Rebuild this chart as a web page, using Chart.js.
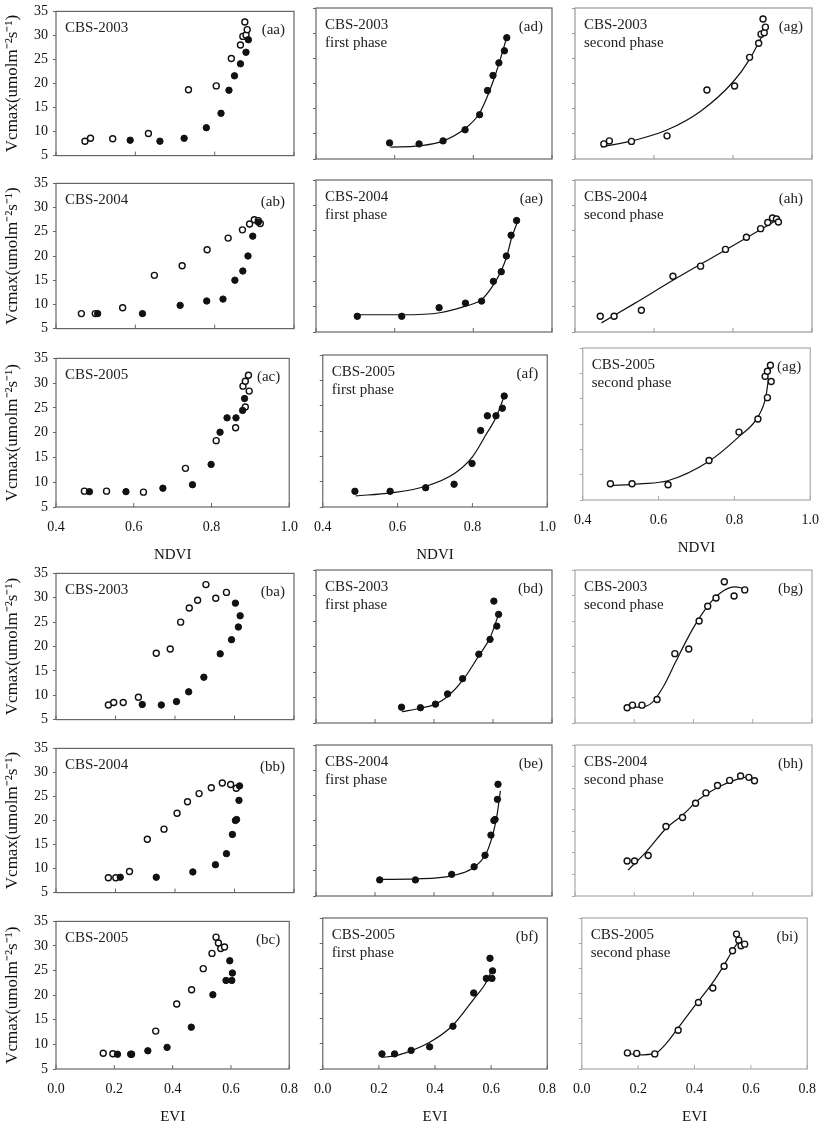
<!DOCTYPE html>
<html>
<head>
<meta charset="utf-8">
<script src="https://cdn.jsdelivr.net/npm/chart.js@4.4.1/dist/chart.umd.min.js"></script>
<style>
  html, body { margin: 0; padding: 0; background: #fff; }
  body { position: relative; width: 826px; height: 1123px; overflow: hidden; }
  canvas { position: absolute; }
</style>
</head>
<body>
<script>
// tick labels
const ndviTicks = [0.4, 0.6, 0.8, 1.0];
const eviTicks = [0.0, 0.2, 0.4, 0.6, 0.8];
const vcmaxTicks = [5, 10, 15, 20, 25, 30, 35];
const vcmaxTicksZero = [0, 5, 10, 15, 20, 25, 30, 35];

// NDVI vs Vcmax, [ndvi, vcmax]; "first" = filled dots, "second" = open dots
const ndvi03First = [[0.587, 8.2], [0.662, 8.0], [0.723, 8.6], [0.779, 10.8], [0.816, 13.8], [0.836, 18.6], [0.850, 21.6], [0.865, 24.1], [0.879, 26.5], [0.885, 29.1]];
const ndvi03Second = [[0.473, 8.0], [0.487, 8.6], [0.543, 8.5], [0.633, 9.6], [0.734, 18.7], [0.804, 19.5], [0.842, 25.2], [0.865, 28.0], [0.871, 29.8], [0.876, 32.8], [0.879, 30.1], [0.882, 31.2]];
const ndvi03FirstFit = [[0.589, 7.35], [0.662, 7.6], [0.724, 8.6], [0.778, 11.0], [0.815, 14.0], [0.835, 17.3], [0.851, 20.6], [0.865, 23.9], [0.884, 28.9]];
const ndvi03SecondFit = [[0.467, 7.4], [0.55, 8.7], [0.634, 10.8], [0.718, 14.5], [0.80, 20.3], [0.842, 24.8], [0.882, 30.7]];

const ndvi04First = [[0.505, 8.1], [0.618, 8.1], [0.713, 9.8], [0.780, 10.7], [0.821, 11.1], [0.851, 15.0], [0.871, 16.9], [0.884, 20.0], [0.896, 24.1], [0.910, 27.0]];
const ndvi04Second = [[0.464, 8.1], [0.499, 8.1], [0.568, 9.3], [0.648, 16.0], [0.718, 18.0], [0.781, 21.3], [0.834, 23.7], [0.870, 25.4], [0.888, 26.6], [0.900, 27.5], [0.910, 27.3], [0.915, 26.7]];
const ndvi04FirstFit = [[0.505, 8.4], [0.618, 8.4], [0.715, 8.8], [0.780, 10.1], [0.821, 11.4], [0.851, 14.3], [0.872, 17.3], [0.885, 19.9], [0.897, 23.5], [0.912, 26.7]];
const ndvi04SecondFit = [[0.467, 6.8], [0.55, 10.6], [0.65, 15.3], [0.75, 19.8], [0.83, 23.4], [0.913, 27.2]];

const ndvi05First = [[0.486, 8.1], [0.580, 8.1], [0.675, 8.8], [0.751, 9.5], [0.799, 13.6], [0.822, 20.1], [0.840, 23.0], [0.863, 23.0], [0.880, 24.5], [0.885, 26.9]];
const ndvi05Second = [[0.473, 8.2], [0.530, 8.2], [0.625, 8.0], [0.733, 12.8], [0.812, 18.4], [0.862, 21.0], [0.887, 25.2], [0.881, 29.4], [0.887, 30.4], [0.895, 31.6], [0.897, 28.4]];
const ndvi05FirstFit = [[0.488, 7.2], [0.583, 7.8], [0.676, 9.1], [0.752, 11.6], [0.80, 14.9], [0.838, 19.5], [0.864, 22.8], [0.886, 27.1]];
const ndvi05SecondFit = [[0.469, 7.8], [0.55, 8.2], [0.624, 8.8], [0.732, 12.6], [0.812, 17.5], [0.862, 21.4], [0.883, 25.4], [0.890, 29.0]];

// EVI vs Vcmax, [evi, vcmax]
const evi03First = [[0.290, 8.1], [0.354, 8.0], [0.405, 8.7], [0.446, 10.7], [0.497, 13.7], [0.552, 18.5], [0.590, 21.4], [0.603, 28.9], [0.613, 24.0], [0.619, 26.3]];
const evi03Second = [[0.176, 8.0], [0.194, 8.5], [0.226, 8.5], [0.277, 9.6], [0.337, 18.6], [0.384, 19.5], [0.419, 25.0], [0.448, 27.9], [0.476, 29.5], [0.504, 32.7], [0.537, 29.9], [0.573, 31.1]];
const evi03FirstFit = [[0.291, 7.2], [0.354, 7.9], [0.405, 8.7], [0.446, 10.2], [0.499, 13.5], [0.552, 18.2], [0.590, 21.7], [0.620, 26.5]];
const evi03SecondFit = [[0.176, 8.1], [0.22, 8.1], [0.26, 9.0], [0.30, 12.3], [0.34, 17.0], [0.38, 21.6], [0.42, 25.6], [0.46, 28.8], [0.50, 30.9], [0.54, 31.7], [0.573, 31.3]];

const evi04First = [[0.216, 8.2], [0.337, 8.2], [0.460, 9.3], [0.536, 10.8], [0.573, 13.1], [0.593, 17.1], [0.603, 20.0], [0.607, 20.2], [0.615, 24.2], [0.617, 27.2]];
const evi04Second = [[0.176, 8.1], [0.201, 8.1], [0.247, 9.4], [0.307, 16.1], [0.363, 18.2], [0.407, 21.5], [0.442, 23.9], [0.481, 25.6], [0.522, 26.8], [0.559, 27.8], [0.587, 27.5], [0.606, 26.7]];
const evi04FirstFit = [[0.216, 8.3], [0.337, 8.4], [0.46, 9.0], [0.533, 10.6], [0.578, 13.6], [0.601, 17.6], [0.614, 21.2], [0.625, 25.9]];
const evi04SecondFit = [[0.179, 6.0], [0.241, 10.3], [0.308, 15.7], [0.364, 18.8], [0.417, 22.3], [0.488, 25.4], [0.549, 27.1], [0.597, 27.8]];

const evi05First = [[0.211, 8.0], [0.256, 8.0], [0.315, 8.7], [0.381, 9.4], [0.464, 13.5], [0.538, 20.1], [0.583, 23.0], [0.596, 27.0], [0.605, 24.5], [0.603, 23.0]];
const evi05Second = [[0.162, 8.2], [0.195, 8.1], [0.259, 8.0], [0.342, 12.7], [0.414, 18.2], [0.465, 21.1], [0.505, 25.4], [0.535, 28.5], [0.549, 31.8], [0.557, 30.6], [0.565, 29.5], [0.578, 29.8]];
const evi05FirstFit = [[0.209, 7.3], [0.256, 7.6], [0.314, 8.6], [0.378, 10.2], [0.462, 13.6], [0.538, 18.9], [0.582, 22.2], [0.605, 25.0]];
const evi05SecondFit = [[0.16, 8.2], [0.20, 7.8], [0.26, 8.1], [0.30, 10.1], [0.34, 13.0], [0.40, 17.5], [0.46, 21.8], [0.50, 25.2], [0.54, 29.0], [0.565, 31.0]];

const SERIF = '"Liberation Serif", "Times New Roman", serif';
const INK = '#111';

// plot-box layout (page pixels)
const colBox = [[56, 294], [316, 552], [575, 812]];
const rowBox = { ndvi: [[8, 159], [180, 332], [355, 507]], evi: [[570, 723], [745, 896], [918, 1069]] };
const borderCol = ['#666', '#666', '#999'];

const xy = arr => arr.map(([x, y]) => ({ x, y }));

const panelPlugin = {
  id: 'panel',
  beforeDatasetsDraw(chart, args, o) {
    const { ctx, chartArea: a, scales } = chart;
    ctx.save();
    ctx.strokeStyle = o.border;
    ctx.lineWidth = 1.2;
    ctx.strokeRect(a.left, a.top, a.right - a.left, a.bottom - a.top);
    // short inward ticks on the x axis
    ctx.lineWidth = 1;
    scales.x.ticks.forEach(t => {
      const px = scales.x.getPixelForValue(t.value);
      ctx.beginPath();
      ctx.moveTo(px, a.bottom);
      ctx.lineTo(px, a.bottom - 4);
      ctx.stroke();
    });
    ctx.restore();
  },
  afterDatasetsDraw(chart, args, o) {
    const { ctx, chartArea: a } = chart;
    ctx.save();
    ctx.fillStyle = '#222';
    ctx.font = '15px ' + SERIF;
    ctx.textAlign = 'left';
    o.lines.forEach((s, i) => ctx.fillText(s, a.left + 9, a.top + 21 + i * 18));
    ctx.textAlign = 'right';
    ctx.fillText(o.tag, a.right - 9, a.top + 23);
    ctx.restore();
  }
};

function filledSet(arr) {
  return { data: xy(arr), showLine: false, pointRadius: 3.2, pointBackgroundColor: INK, pointBorderColor: INK, pointBorderWidth: 1 };
}
function openSet(arr) {
  return { data: xy(arr), showLine: false, pointRadius: 3, pointBackgroundColor: '#fff', pointBorderColor: INK, pointBorderWidth: 1.4 };
}
function fitSet(arr) {
  return { data: xy(arr), showLine: true, pointRadius: 0, borderColor: INK, borderWidth: 1.2, cubicInterpolationMode: 'monotone', fill: false };
}

function makePanel(p) {
  const block = p.block;
  const [x0, x1] = p.box ? [p.box[0], p.box[1]] : colBox[p.col];
  const [y0, y1] = p.box ? [p.box[2], p.box[3]] : rowBox[block][p.row];
  const padL = p.col === 0 ? 56 : 14;
  const padR = 16, padT = 10;
  const padB = p.row === 2 ? 57 : 10;
  const W = x1 - x0 + padL + padR;
  const H = y1 - y0 + padT + padB;

  const cv = document.createElement('canvas');
  cv.width = W; cv.height = H;
  cv.style.left = (x0 - padL) + 'px';
  cv.style.top = (y0 - padT) + 'px';
  cv.style.width = W + 'px';
  cv.style.height = H + 'px';
  document.body.appendChild(cv);

  const xt = block === 'ndvi' ? ndviTicks : eviTicks;
  const yt = p.yZero ? vcmaxTicksZero : vcmaxTicks;
  const border = p.border || borderCol[p.col];

  const datasets = [];
  if (p.filled) datasets.push(filledSet(p.filled));
  if (p.open) datasets.push(openSet(p.open));
  if (p.fit) datasets.push(fitSet(p.fit));

  new Chart(cv, {
    type: 'scatter',
    data: { datasets },
    options: {
      responsive: false,
      animation: false,
      events: [],
      layout: { padding: { top: padT, right: padR, left: 0, bottom: 0 } },
      plugins: {
        legend: { display: false },
        tooltip: { enabled: false },
        panel: { lines: p.lines, tag: p.tag, border }
      },
      scales: {
        x: {
          type: 'linear',
          min: xt[0], max: xt[xt.length - 1],
          afterBuildTicks: s => { s.ticks = xt.map(v => ({ value: v })); },
          afterFit: s => { s.height = padB; },
          grid: { display: false, drawTicks: false },
          border: { display: false },
          ticks: {
            display: p.row === 2, padding: 12, autoSkip: false, maxRotation: 0,
            color: INK, font: { family: SERIF, size: 14 },
            callback: v => Number(v).toFixed(1)
          },
          title: {
            display: p.row === 2, text: block === 'ndvi' ? 'NDVI' : 'EVI',
            color: INK, font: { family: SERIF, size: 15 }, padding: 0
          }
        },
        y: {
          type: 'linear',
          min: yt[0], max: yt[yt.length - 1],
          afterBuildTicks: s => { s.ticks = yt.map(v => ({ value: v })); },
          afterFit: s => { s.width = padL; },
          grid: { drawOnChartArea: false, drawTicks: true, tickLength: 3, color: border },
          border: { display: false },
          ticks: {
            display: p.col === 0, padding: 5,
            color: INK, font: { family: SERIF, size: 14 }
          },
          title: {
            display: p.col === 0, text: 'Vcmax(umolm\u207B\u00B2s\u207B\u00B9)',
            color: INK, font: { family: SERIF, size: 17 }, padding: { top: 2, bottom: 0 }
          }
        }
      }
    },
    plugins: [panelPlugin]
  });
}

const panels = [
  { block: 'ndvi', row: 0, col: 0, tag: '(aa)', lines: ['CBS-2003'], filled: ndvi03First, open: ndvi03Second },
  { block: 'ndvi', row: 0, col: 1, tag: '(ad)', lines: ['CBS-2003', 'first phase'], filled: ndvi03First, fit: ndvi03FirstFit },
  { block: 'ndvi', row: 0, col: 2, tag: '(ag)', lines: ['CBS-2003', 'second phase'], open: ndvi03Second, fit: ndvi03SecondFit },
  { block: 'ndvi', row: 1, col: 0, tag: '(ab)', lines: ['CBS-2004'], filled: ndvi04First, open: ndvi04Second },
  { block: 'ndvi', row: 1, col: 1, tag: '(ae)', lines: ['CBS-2004', 'first phase'], filled: ndvi04First, fit: ndvi04FirstFit },
  { block: 'ndvi', row: 1, col: 2, tag: '(ah)', lines: ['CBS-2004', 'second phase'], open: ndvi04Second, fit: ndvi04SecondFit },
  { block: 'ndvi', row: 2, col: 0, tag: '(ac)', lines: ['CBS-2005'], filled: ndvi05First, open: ndvi05Second },
  { block: 'ndvi', row: 2, col: 1, tag: '(af)', lines: ['CBS-2005', 'first phase'], filled: ndvi05First, fit: ndvi05FirstFit },
  { block: 'ndvi', row: 2, col: 2, tag: '(ag)', lines: ['CBS-2005', 'second phase'], open: ndvi05Second, fit: ndvi05SecondFit, box: [576, 815, 348, 500], border: '#aaa' },
  { block: 'evi', row: 0, col: 0, tag: '(ba)', lines: ['CBS-2003'], filled: evi03First, open: evi03Second },
  { block: 'evi', row: 0, col: 1, tag: '(bd)', lines: ['CBS-2003', 'first phase'], filled: evi03First, fit: evi03FirstFit },
  { block: 'evi', row: 0, col: 2, tag: '(bg)', lines: ['CBS-2003', 'second phase'], open: evi03Second, fit: evi03SecondFit, border: '#aaa' },
  { block: 'evi', row: 1, col: 0, tag: '(bb)', lines: ['CBS-2004'], filled: evi04First, open: evi04Second },
  { block: 'evi', row: 1, col: 1, tag: '(be)', lines: ['CBS-2004', 'first phase'], filled: evi04First, fit: evi04FirstFit },
  { block: 'evi', row: 1, col: 2, tag: '(bh)', lines: ['CBS-2004', 'second phase'], open: evi04Second, fit: evi04SecondFit, yZero: true, border: '#aaa' },
  { block: 'evi', row: 2, col: 0, tag: '(bc)', lines: ['CBS-2005'], filled: evi05First, open: evi05Second },
  { block: 'evi', row: 2, col: 1, tag: '(bf)', lines: ['CBS-2005', 'first phase'], filled: evi05First, fit: evi05FirstFit },
  { block: 'evi', row: 2, col: 2, tag: '(bi)', lines: ['CBS-2005', 'second phase'], open: evi05Second, fit: evi05SecondFit, border: '#aaa' }
];

panels.forEach(makePanel);
</script>
</body>
</html>
